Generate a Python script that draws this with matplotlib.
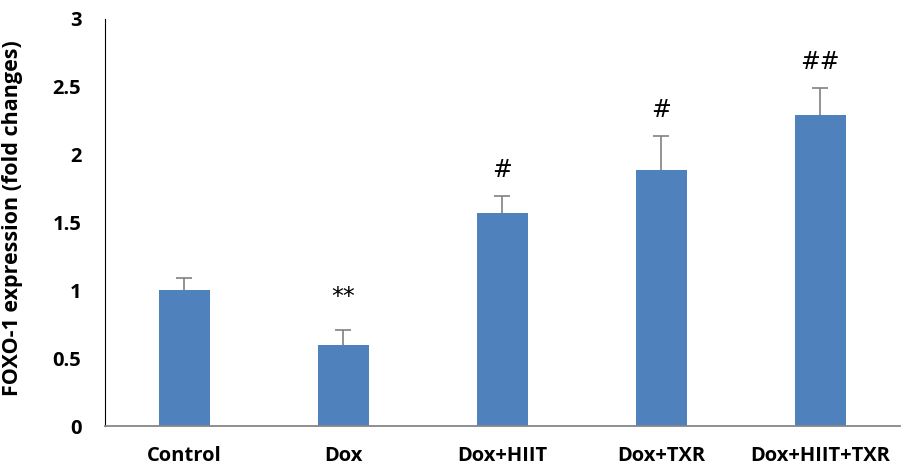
import matplotlib.pyplot as plt

groups = ["Control", "Dox", "Dox+HIIT", "Dox+TXR", "Dox+HIIT+TXR"]
means = [1.0, 0.60, 1.57, 1.89, 2.29]
errors = [0.09, 0.11, 0.125, 0.25, 0.20]
marks = ["", "**", "#", "#", "##"]

plt.rcParams['font.family'] = ['Open Sans', 'DejaVu Sans']

fig = plt.figure(figsize=(9.01, 4.68), dpi=100)
ax = fig.add_axes([0.1165, 0.0897, 0.882, 0.870])

x = list(range(len(groups)))
ax.bar(x, means, width=0.32, color='#4F81BD', zorder=2)
eb = ax.errorbar(x, means, yerr=[[0] * len(errors), errors], fmt='none',
                 ecolor='#808080', elinewidth=1.2, capsize=6, capthick=1.2, zorder=3)
# only the upper cap, like the reference
eb[1][0].set_visible(False)

for xi, m, e, s in zip(x, means, errors, marks):
    if s:
        # asterisks sit a little higher than the hashes
        off = 0.24 if s == "**" else 0.19
        ax.text(xi, m + e + off, s, ha='center', va='center',
                fontsize=17, family='DejaVu Sans', color='black')

ax.set_xlim(-0.5, 4.5)
ax.set_ylim(0, 3)
ax.set_yticks([0, 0.5, 1, 1.5, 2, 2.5, 3])
ax.set_yticklabels(["0", "0.5", "1", "1.5", "2", "2.5", "3"])
ax.set_xticks(x)
ax.set_xticklabels(groups)
ax.tick_params(axis='both', length=0, labelsize=14.5)
ax.tick_params(axis='y', pad=17)
ax.tick_params(axis='x', pad=14.5)
for lab in ax.get_xticklabels() + ax.get_yticklabels():
    lab.set_fontweight('bold')

ax.spines['top'].set_visible(False)
ax.spines['right'].set_visible(False)
ax.spines['left'].set_color('black')
ax.spines['bottom'].set_color('#868686')
ax.spines['bottom'].set_linewidth(1.3)

ax.set_ylabel("FOXO-1 expression (fold changes)", fontsize=15.5, fontweight='bold')
ax.yaxis.set_label_coords(-0.103, 0.51)

fig.savefig('out.png', dpi=100)
